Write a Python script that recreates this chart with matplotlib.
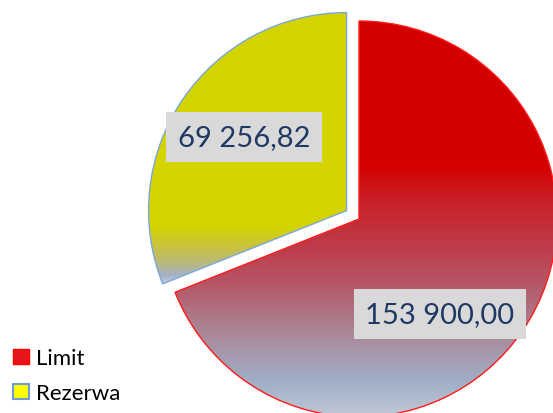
import numpy as np
import matplotlib.pyplot as plt
from matplotlib.colors import LinearSegmentedColormap
from matplotlib.patches import Patch


#%% Data

categories = ['Limit', 'Rezerwa']
values = [153900.00, 69256.82]


#%% Style

W, H = 553, 414
center = (359, 194)
radius = 198
explode = [0, 15]   # pie() takes this in data units here

red_stops = [(0.0, '#D40000'), (0.36, '#D40000'), (0.45, '#C92027'), (0.58, '#BD3F4E'),
             (0.66, '#B65767'), (0.79, '#A98A9B'), (0.91, '#A0B0C8'), (1.0, '#C4CAD6')]
yellow_stops = [(0.0, '#D4D400'), (0.79, '#D4D400'), (0.87, '#C8C244'), (0.93, '#B8B884'),
                (0.97, '#A2B2C8'), (1.0, '#C8CCD8')]
edge_colors = ['#FF1A1A', '#7BA7DC']
label_pos = [(440, 99), (244, 276)]

def fmt(v):
    return '{:,.2f}'.format(v).replace(',', ' ').replace('.', ',')


#%% Chart

fig = plt.figure(figsize=(W / 100, H / 100), dpi=100)
ax = fig.add_axes([0, 0, 1, 1])

wedges, _ = ax.pie(values, explode=explode, startangle=90, counterclock=False,
                   center=center, radius=radius,
                   wedgeprops=dict(facecolor='none', linewidth=1.0, zorder=3))

for w, stops, ec in zip(wedges, [red_stops, yellow_stops], edge_colors):
    w.set_edgecolor(ec)
    v = w.get_path().vertices
    x0, x1 = v[:, 0].min(), v[:, 0].max()
    y0, y1 = v[:, 1].min(), v[:, 1].max()
    cmap = LinearSegmentedColormap.from_list('g', stops)
    grad = np.linspace(0, 1, 256).reshape(-1, 1)
    im = ax.imshow(grad, cmap=cmap, extent=[x0, x1, y0, y1], origin='upper',
                   aspect='auto', zorder=1, interpolation='bilinear')
    im.set_clip_path(w)

for (x, y), v in zip(label_pos, values):
    ax.text(x, y, fmt(v), ha='center', va='center', fontsize=21, color='#1F3864',
            family='Lato', zorder=5,
            bbox=dict(boxstyle='square,pad=0.4', fc='#D9D9D9', ec='none'))

handles = [Patch(fc='#E8141C', ec='#FF0000'), Patch(fc='#FFFF00', ec='#6F9BD8', lw=1.5)]
ax.legend(handles, categories, loc='lower left', bbox_to_anchor=(-0.012, -0.025),
          frameon=False, handlelength=0.7, handleheight=0.7, handletextpad=0.3,
          labelspacing=0.68, prop=dict(family='Lato', size=16))

ax.set_xlim(0, W)
ax.set_ylim(0, H)
ax.set_aspect('equal')
ax.axis('off')

plt.savefig('out.png', dpi=100)
